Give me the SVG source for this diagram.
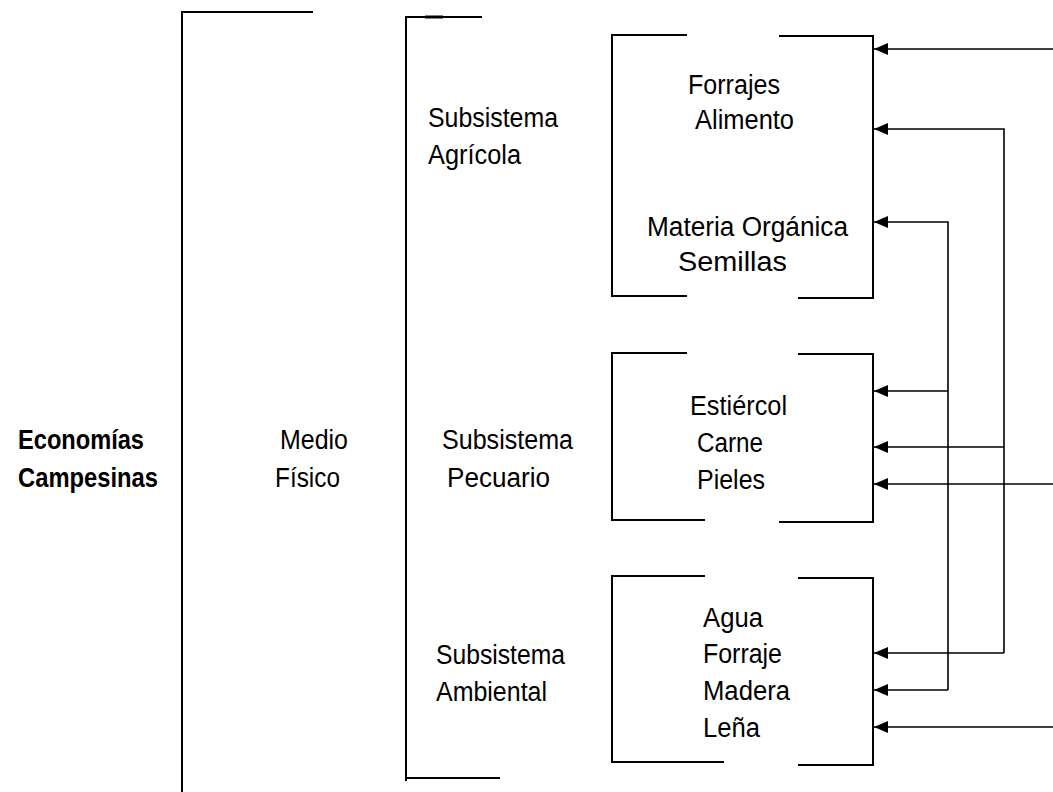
<svg xmlns="http://www.w3.org/2000/svg" width="1053" height="792" viewBox="0 0 1053 792">
<defs>
<style>
.ln{stroke:#000;stroke-width:2;fill:none}
.cn{stroke:#000;stroke-width:1.6;fill:none}
.t{font-family:"Liberation Sans",Arial,sans-serif;font-size:27px;fill:#000}
.b{font-weight:bold}
</style>
<marker id="ah" markerWidth="14" markerHeight="12" refX="14" refY="6" orient="auto" markerUnits="userSpaceOnUse">
<path d="M0,0 L14,6 L0,12 Z" fill="#000"/>
</marker>
</defs>
<rect width="1053" height="792" fill="#fff"/>

<g id="economias">
<text class="t b" x="18" y="449" textLength="126" lengthAdjust="spacingAndGlyphs">Economías</text>
<text class="t b" x="18" y="487" textLength="140" lengthAdjust="spacingAndGlyphs">Campesinas</text>
<path class="ln" d="M313,12 H182 V792"/>
</g>

<g id="medio-fisico">
<text class="t" x="280" y="449" textLength="68" lengthAdjust="spacingAndGlyphs">Medio</text>
<text class="t" x="275" y="487" textLength="65" lengthAdjust="spacingAndGlyphs">Físico</text>
<path class="ln" d="M482,17 H406 V781 M406,778 H500"/>
<path d="M425,17 H443" stroke="#000" stroke-width="3"/>
</g>

<g id="subsistema-agricola">
<text class="t" x="428" y="127" textLength="130" lengthAdjust="spacingAndGlyphs">Subsistema</text>
<text class="t" x="428" y="164" textLength="93" lengthAdjust="spacingAndGlyphs">Agrícola</text>
</g>

<g id="subsistema-pecuario">
<text class="t" x="442" y="449" textLength="131" lengthAdjust="spacingAndGlyphs">Subsistema</text>
<text class="t" x="447" y="487" textLength="103" lengthAdjust="spacingAndGlyphs">Pecuario</text>
</g>

<g id="subsistema-ambiental">
<text class="t" x="436" y="664" textLength="129" lengthAdjust="spacingAndGlyphs">Subsistema</text>
<text class="t" x="436" y="701" textLength="111" lengthAdjust="spacingAndGlyphs">Ambiental</text>
</g>

<g id="box-agricola">
<path class="ln" d="M687,35 H612 V296 H687 M779,36 H873 V298 H798"/>
<text class="t" x="688" y="94" textLength="92" lengthAdjust="spacingAndGlyphs">Forrajes</text>
<text class="t" x="695" y="129" textLength="99" lengthAdjust="spacingAndGlyphs">Alimento</text>
<text class="t" x="647" y="236" textLength="201" lengthAdjust="spacingAndGlyphs">Materia Orgánica</text>
<text class="t" x="678" y="271" textLength="109" lengthAdjust="spacingAndGlyphs">Semillas</text>
</g>

<g id="box-pecuario">
<path class="ln" d="M687,353 H612 V520 H705 M798,354 H873 V522 H779"/>
<text class="t" x="690" y="415" textLength="97" lengthAdjust="spacingAndGlyphs">Estiércol</text>
<text class="t" x="697" y="452" textLength="66" lengthAdjust="spacingAndGlyphs">Carne</text>
<text class="t" x="697" y="489" textLength="68" lengthAdjust="spacingAndGlyphs">Pieles</text>
</g>

<g id="box-ambiental">
<path class="ln" d="M705,576 H612 V762 H724 M798,578 H873 V765 H798"/>
<text class="t" x="703" y="627" textLength="60" lengthAdjust="spacingAndGlyphs">Agua</text>
<text class="t" x="703" y="663" textLength="79" lengthAdjust="spacingAndGlyphs">Forraje</text>
<text class="t" x="703" y="700" textLength="87" lengthAdjust="spacingAndGlyphs">Madera</text>
<text class="t" x="703" y="737" textLength="57" lengthAdjust="spacingAndGlyphs">Leña</text>
</g>

<g id="connectors">
<path class="cn" d="M1053,49 H874" marker-end="url(#ah)"/>
<path class="cn" d="M1004,653 V129 H874" marker-end="url(#ah)"/>
<path class="cn" d="M1004,447 H874" marker-end="url(#ah)"/>
<path class="cn" d="M1004,653 H874" marker-end="url(#ah)"/>
<path class="cn" d="M948,690 V222 H874" marker-end="url(#ah)"/>
<path class="cn" d="M948,391 H874" marker-end="url(#ah)"/>
<path class="cn" d="M948,690 H874" marker-end="url(#ah)"/>
<path class="cn" d="M1053,484 H874" marker-end="url(#ah)"/>
<path class="cn" d="M1053,727 H874" marker-end="url(#ah)"/>
</g>
</svg>
